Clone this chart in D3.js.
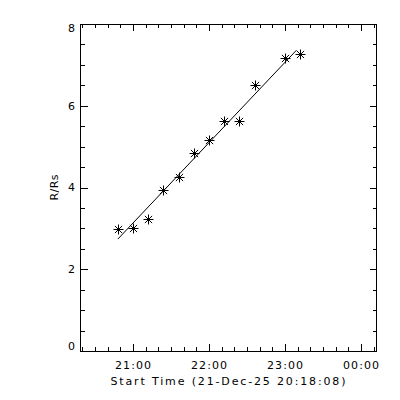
<!DOCTYPE html>
<html>
<head>
<meta charset="utf-8">
<script src="https://cdn.jsdelivr.net/npm/d3@7"></script>
<style>
  html, body { margin: 0; padding: 0; background: #fff; }
  svg { display: block; }
  text { font-family: "DejaVu Sans", sans-serif; font-size: 11px; fill: #000; }
</style>
</head>
<body>
<svg width="400" height="400"></svg>
<script>
(function (d3) {
  'use strict';

  // height-time points (21-Dec-25)
  const times = ['20:48', '21:00', '21:12', '21:24', '21:36', '21:48',
                 '22:00', '22:12', '22:24', '22:36', '23:00', '23:12'];
  const heights = [2.98, 3.00, 3.22, 3.94, 4.25, 4.85,
                   5.16, 5.63, 5.63, 6.50, 7.16, 7.27];
  const yTicks = [0, 2, 4, 6, 8];
  const startLabel = '21-Dec-25 20:18:08';

  const day = '2025-12-21';
  const parse = d3.timeParse('%Y-%m-%d %H:%M:%S');
  const t0 = parse(day + ' 20:18:08');
  const t1 = parse('2025-12-22 00:11:50');

  const svg = d3.select('svg');
  const margin = { top: 24, right: 24, bottom: 49, left: 80 };
  const width = 400, height = 400;

  const x = d3.scaleTime().domain([t0, t1]).range([margin.left, width - margin.right]);
  const y = d3.scaleLinear().domain([0, 8]).range([height - margin.bottom, margin.top]);

  const data = times.map((t, i) => ({ t: parse(day + ' ' + t + ':00'), v: heights[i] }));

  const g = svg.append('g');

  // frame
  g.append('rect')
      .attr('x', x.range()[0] + 0.5)
      .attr('y', y.range()[1] + 0.5)
      .attr('width', x.range()[1] - x.range()[0])
      .attr('height', y.range()[0] - y.range()[1])
      .attr('fill', 'none')
      .attr('stroke', '#000')
      .attr('shape-rendering', 'crispEdges');

  const fmt = d3.timeFormat('%H:%M');
  const majorX = d3.timeHour.every(1).range(t0, t1);
  const minorX = d3.timeMinute.every(10).range(t0, t1);

  // x ticks, bottom and top
  [[y.range()[0], -1], [y.range()[1], 1]].forEach(([y0, dir]) => {
    g.selectAll(null).data(minorX).enter().append('line')
        .attr('x1', d => Math.round(x(d)) + 0.5).attr('x2', d => Math.round(x(d)) + 0.5)
        .attr('y1', y0).attr('y2', d => y0 + dir * (d.getMinutes() === 0 ? 7 : 4))
        .attr('stroke', '#000').attr('shape-rendering', 'crispEdges');
  });
  g.selectAll(null).data(majorX).enter().append('text')
      .attr('x', d => x(d))
      .attr('y', y.range()[0] + 18)
      .attr('text-anchor', 'middle')
      .attr('textLength', 36).attr('lengthAdjust', 'spacing')
      .text(fmt);

  // y ticks, left and right
  const minorY = d3.range(0, 8.01, 0.5);
  [[x.range()[0], 1], [x.range()[1], -1]].forEach(([x0, dir]) => {
    g.selectAll(null).data(minorY).enter().append('line')
        .attr('x1', x0 + 0.5).attr('x2', d => x0 + 0.5 + dir * (d % 2 === 0 ? 7 : 4))
        .attr('y1', d => Math.round(y(d)) + 0.5).attr('y2', d => Math.round(y(d)) + 0.5)
        .attr('stroke', '#000').attr('shape-rendering', 'crispEdges');
  });
  g.selectAll(null).data(yTicks).enter().append('text')
      .attr('x', x.range()[0] - 5)
      .attr('y', d => y(d))
      .attr('dy', d => d === 8 ? '0.75em' : d === 0 ? '-0.05em' : '0.36em')
      .attr('text-anchor', 'end')
      .text(d => d);

  // axis titles
  svg.append('text')
      .attr('x', (x.range()[0] + x.range()[1]) / 2)
      .attr('y', 385)
      .attr('text-anchor', 'middle')
      .attr('textLength', 235).attr('lengthAdjust', 'spacing')
      .text('Start Time (' + startLabel + ')');
  svg.append('text')
      .attr('transform', `translate(58,${(y.range()[0] + y.range()[1]) / 2}) rotate(-90)`)
      .attr('text-anchor', 'middle')
      .attr('textLength', 26).attr('lengthAdjust', 'spacing')
      .text('R/Rs');

  // linear fit
  const tm = data.map(d => (d.t - data[0].t) / 6e4);
  const mt = d3.mean(tm), mv = d3.mean(heights);
  const slope = d3.sum(tm, (t, i) => (t - mt) * (heights[i] - mv)) / d3.sum(tm, t => (t - mt) ** 2);
  const icpt = mv - slope * mt;
  const ends = [data[0].t, d3.timeMinute.offset(data[data.length - 1].t, -3)];
  g.append('path')
      .attr('d', d3.line().x(d => x(d)).y(d => y(icpt + slope * (d - data[0].t) / 6e4))(ends))
      .attr('fill', 'none').attr('stroke', '#000');

  // asterisks
  const r = 5, rd = r * 0.72;
  const star = `M${-r},0H${r}M0,${-r}V${r}M${-rd},${-rd}L${rd},${rd}M${-rd},${rd}L${rd},${-rd}`;
  g.selectAll(null).data(data).enter().append('path')
      .attr('transform', d => `translate(${Math.round(x(d.t)) + 0.5},${Math.round(y(d.v)) + 0.5})`)
      .attr('d', star)
      .attr('fill', 'none').attr('stroke', '#000').attr('stroke-width', 1);

}(d3));
</script>
</body>
</html>
